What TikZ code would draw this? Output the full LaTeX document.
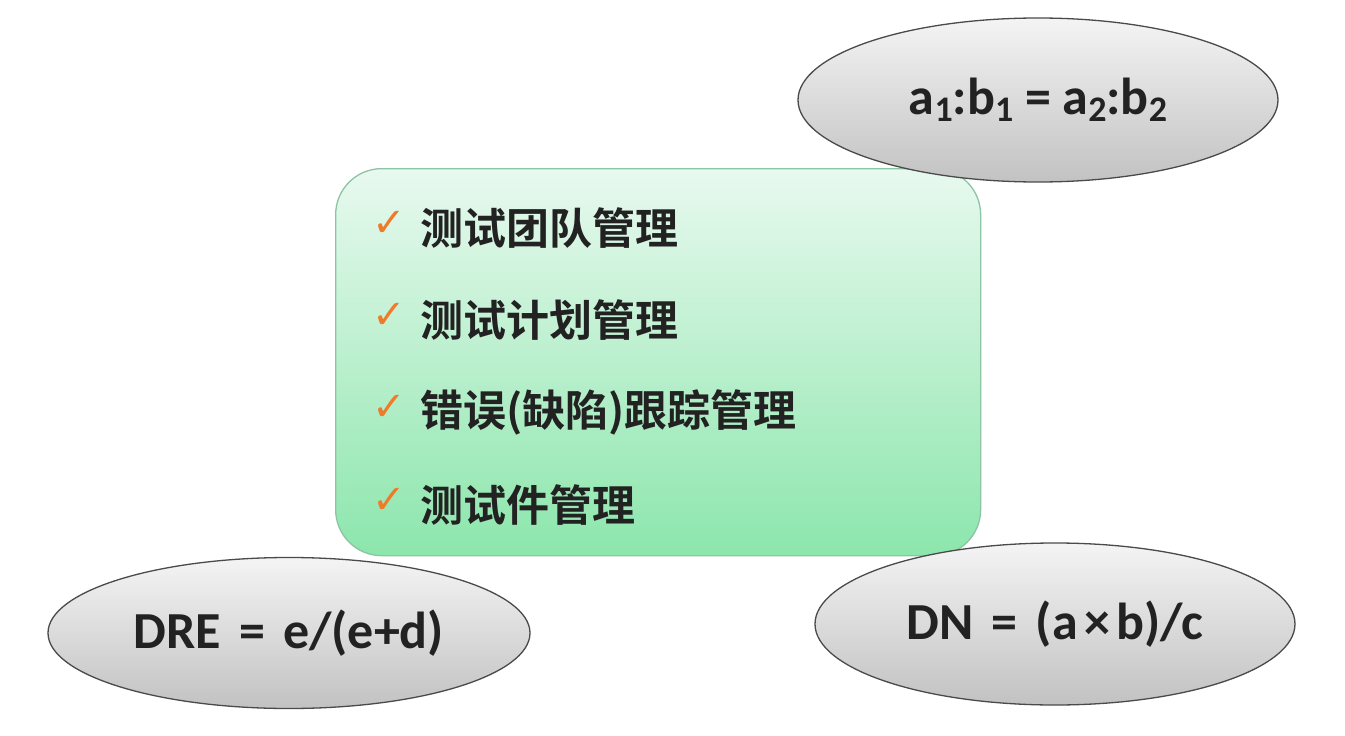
\documentclass[tikz,border=0pt]{standalone}
\usepackage{fontspec}
\setmainfont{Carlito}
\newfontfamily\cjk{Noto Sans CJK SC}[BoldFont={Noto Sans CJK SC Bold}]
\newfontfamily\symf{DejaVu Sans}
\usetikzlibrary{shapes.geometric}
\definecolor{boxtop}{HTML}{E8F9EF}
\definecolor{boxbot}{HTML}{8CE6AC}
\definecolor{boxline}{HTML}{8CC4A4}
\definecolor{elltop}{HTML}{F4F4F4}
\definecolor{ellbot}{HTML}{C2C2C2}
\definecolor{ellline}{HTML}{4A4A4A}
\definecolor{checkc}{HTML}{F07A2A}
\definecolor{txt}{HTML}{222222}
\newcommand{\eqsp}{\hspace{0.12em}}
\tikzset{
  formula/.style={ellipse, draw=ellline, line width=1.3pt, top color=elltop, bottom color=ellbot,
    inner sep=0pt, text=txt, font=\fontsize{52}{52}\selectfont\bfseries},
  item/.style={anchor=west, inner sep=0pt, text=txt, font=\fontsize{43}{43}\selectfont\cjk\bfseries},
  tick/.style={inner sep=0pt, text=checkc, font=\fontsize{40}{40}\selectfont\symf},
}
\begin{document}
\begin{tikzpicture}[x=1pt,y=-1pt]
\useasboundingbox[fill=white] (0,0) rectangle (1345,736);
% central box
\node[draw=boxline, line width=1.3pt, rounded corners=46pt, top color=boxtop, bottom color=boxbot,
  minimum width=645pt, minimum height=387pt, anchor=north west] (box) at (335,168) {};
% items
\node[tick] (t1) at (389,224) {✓};
\node[item] (i1) at (420,228) {测试团队管理};
\node[tick] (t2) at (389,316) {✓};
\node[item] (i2) at (420,320) {测试计划管理};
\node[tick] (t3) at (389,408) {✓};
\node[item] (i3) at (420,412) {错误(缺陷)跟踪管理};
\node[tick] (t4) at (389,501) {✓};
\node[item] (i4) at (420,505) {测试件管理};
% ellipses
\node[formula, minimum width=480pt, minimum height=164pt] (e1) at (1038,100)
  {a\raisebox{-0.28ex}{\fontsize{36}{36}\selectfont 1}:b\raisebox{-0.28ex}{\fontsize{36}{36}\selectfont 1} = a\raisebox{-0.28ex}{\fontsize{36}{36}\selectfont 2}:b\raisebox{-0.28ex}{\fontsize{36}{36}\selectfont 2}};
\node[formula, minimum width=482pt, minimum height=151pt] (e2) at (289,633) {DRE\eqsp{} = \eqsp{}e/(e+d)};
\node[formula, minimum width=480pt, minimum height=162pt] (e3) at (1055,624) {DN\eqsp{} = \eqsp{}(a\eqsp{}×\eqsp{}b)/c};
\end{tikzpicture}
\end{document}
